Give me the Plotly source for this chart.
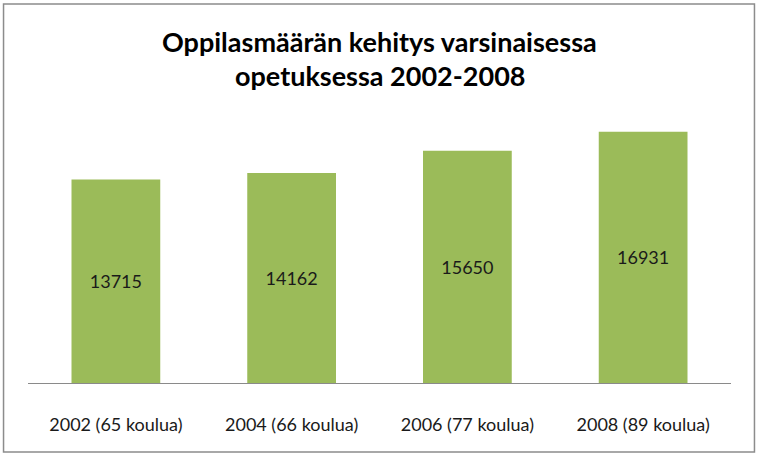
import plotly.graph_objects as go

categories = ["2002 (65 koulua)", "2004 (66 koulua)", "2006 (77 koulua)", "2008 (89 koulua)"]
students = [13715, 14162, 15650, 16931]
title_lines = ["Oppilasmäärän kehitys varsinaisessa", "opetuksessa 2002-2008"]

W, H = 758, 456
L, R, T, B = 27.5, 26.5, 116, 73
pw, ph = W - L - R, H - T - B

def px(x):
    return (x - L) / pw

def py(y):
    return (H - B - y) / ph

fig = go.Figure(go.Bar(
    x=categories, y=students,
    marker=dict(color="#9BBB59", line=dict(width=0)),
    text=[str(v) for v in students],
    textposition="inside", insidetextanchor="middle",
    textfont=dict(family="Lato, Carlito, sans-serif", size=18, color="#1a1a1a"),
    width=0.505,
))

fig.update_layout(
    width=W, height=H,
    margin=dict(l=L, r=R, t=T, b=B),
    paper_bgcolor="white", plot_bgcolor="white",
    showlegend=False,
    font=dict(family="Lato, sans-serif", color="#1a1a1a"),
    xaxis=dict(showline=True, linecolor="#8a8a8a", linewidth=1, ticks="",
               showgrid=False, tickfont=dict(size=18, color="#1a1a1a"),
               ticklabelstandoff=25),
    yaxis=dict(visible=False, range=[0, 18000], showgrid=False),
    uniformtext=dict(minsize=8, mode="show"),
)

for i, (line, yy) in enumerate(zip(title_lines, [41, 75])):
    fig.add_annotation(text="<b>%s</b>" % line, xref="paper", yref="paper",
                       x=px(380), y=py(yy), showarrow=False, xanchor="center", yanchor="middle",
                       font=dict(family="Lato, sans-serif", size=27, color="#000000"))

fig.add_shape(type="rect", xref="paper", yref="paper",
              x0=px(3), x1=px(755), y0=py(452), y1=py(4),
              line=dict(color="#8c8c8c", width=1.5), fillcolor="rgba(0,0,0,0)")

fig.write_html("out.html")
